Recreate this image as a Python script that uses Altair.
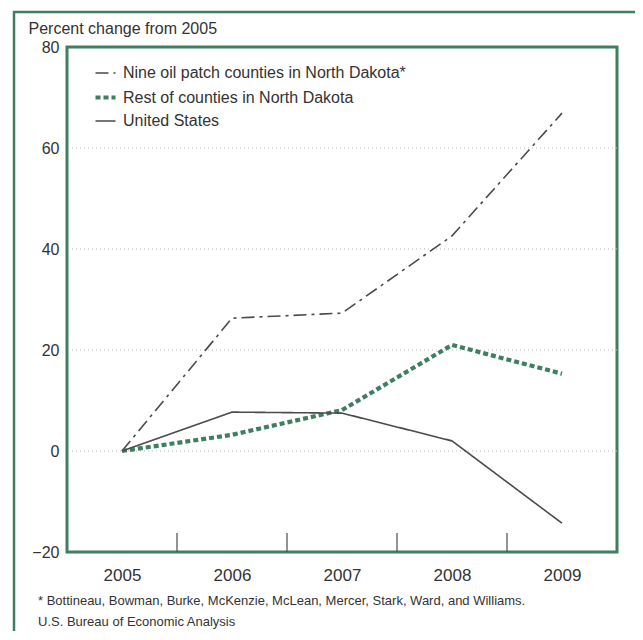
import altair as alt
import pandas as pd

years = [2005, 2006, 2007, 2008, 2009]
oil_patch = [0, 26.3, 27.3, 42.6, 66.9]
rest_nd = [0, 3.2, 8.1, 21.0, 15.3]
us = [0, 7.7, 7.5, 2.0, -14.3]

series_names = [
    "Nine oil patch counties in North Dakota*",
    "Rest of counties in North Dakota",
    "United  States",
]
series_colors = ["#4a4a4f", "#3e7f62", "#4a4a4f"]
series_dash = [[13, 5, 3, 5], [5, 3], [1, 0]]
series_width = [1.6, 4.2, 1.6]

y_ticks = [-20, 0, 20, 40, 60, 80]
grid_vals = [0, 20, 40, 60]
band_edges = [2005.5, 2006.5, 2007.5, 2008.5]

footnote1 = "* Bottineau, Bowman, Burke, McKenzie, McLean, Mercer, Stark, Ward, and Williams."
footnote2 = "U.S. Bureau of Economic Analysis"
y_title = "Percent change from 2005"

GREEN = "#3e7f62"
FONT = "Liberation Sans"

rows = []
for name, vals in zip(series_names, [oil_patch, rest_nd, us]):
    for yr, v in zip(years, vals):
        rows.append({"year": yr, "value": v, "series": name})
df = pd.DataFrame(rows)

x_scale = alt.Scale(domain=[2004.5, 2009.5], nice=False, zero=False)
y_scale = alt.Scale(domain=[-20, 80], nice=False, zero=False)

one = pd.DataFrame({"a": [0]})

outer = alt.Chart(one).mark_rect(fill=None, stroke=GREEN, strokeWidth=2.5).encode(
    x=alt.value(-53), y=alt.value(-35), x2=alt.value(800), y2=alt.value(800)
)

grid = alt.Chart(pd.DataFrame({"g": grid_vals})).mark_rule(
    color="#b8b8b8", strokeDash=[1, 3], strokeWidth=1
).encode(y=alt.Y("g:Q", scale=y_scale))

ticks = alt.Chart(pd.DataFrame({"t": band_edges})).mark_rule(
    color="#4a4a4f", strokeWidth=1.2
).encode(
    x=alt.X("t:Q", scale=x_scale),
    y=alt.value(486),
    y2=alt.value(505),
)

lines = alt.Chart(df).mark_line().encode(
    x=alt.X(
        "year:Q",
        scale=x_scale,
        axis=alt.Axis(
            values=years, format="d", ticks=False, domain=False, grid=False,
            labelFontSize=17, labelPadding=15, labelColor="#333333", labelFont=FONT,
            title=None,
        ),
    ),
    y=alt.Y(
        "value:Q",
        scale=y_scale,
        axis=alt.Axis(
            values=y_ticks, ticks=False, domain=False, grid=False,
            labelFontSize=16, labelPadding=8, labelColor="#333333", labelFont=FONT,
            labelExpr="replace(datum.label, '-', '\u2212')",
            title=y_title, titleAngle=0, titleAlign="left", titleBaseline="middle",
            titleX=-39, titleY=-19, titleFontSize=16, titleFontWeight="normal",
            titleColor="#333333", titleFont=FONT,
        ),
    ),
    color=alt.Color("series:N", scale=alt.Scale(type="ordinal", domain=series_names, range=series_colors), legend=alt.Legend(title=None)),
    strokeDash=alt.StrokeDash("series:N", scale=alt.Scale(type="ordinal", domain=series_names, range=series_dash), legend=alt.Legend(title=None)),
    strokeWidth=alt.StrokeWidth("series:N", scale=alt.Scale(type="ordinal", domain=series_names, range=series_width), legend=alt.Legend(title=None)),
    order=alt.Order("year:Q"),
)

notes = alt.Chart(pd.DataFrame({"t": [footnote1, footnote2], "yy": [554, 575]})).mark_text(
    align="left", baseline="middle", fontSize=13, font=FONT, color="#333333"
).encode(text="t:N", x=alt.value(-29), y=alt.Y("yy:Q", scale=None))

chart = alt.layer(outer, grid, ticks, lines, notes).properties(
    width=550, height=505,
    autosize=alt.AutoSizeParams(type="none"),
    padding={"left": 59, "top": 39, "right": 18, "bottom": 79},
).configure_view(stroke=GREEN, strokeWidth=3).configure_legend(
    orient="none", legendX=26, legendY=15, symbolType="stroke", symbolSize=400,
    labelFontSize=16, labelFont=FONT, labelColor="#333333", labelLimit=500,
    rowPadding=4, labelOffset=5,
)

chart.save("out.html", embed_options={"renderer": "svg", "actions": False})
